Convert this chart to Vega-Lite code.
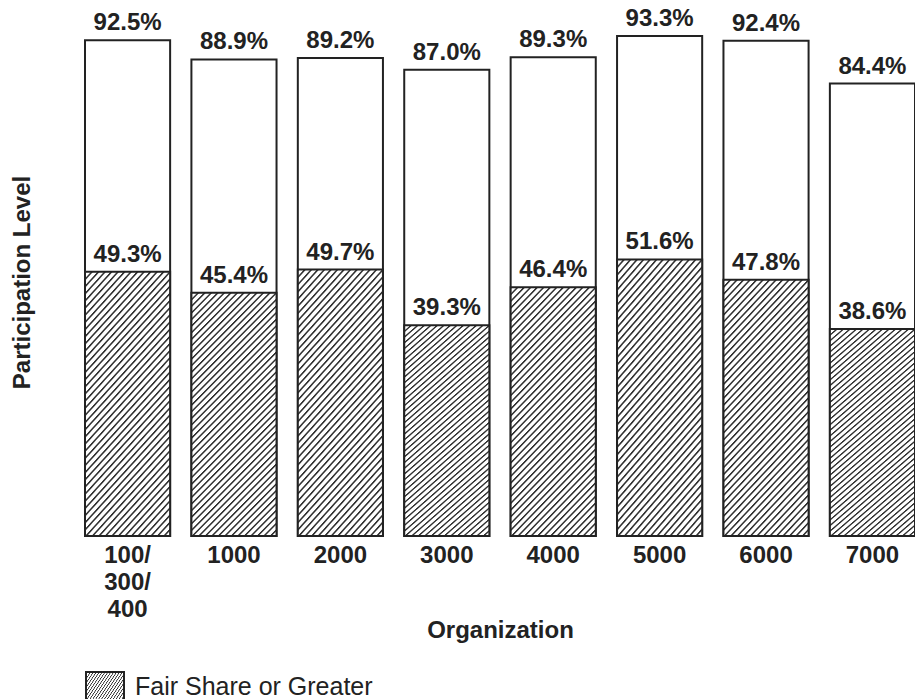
{
  "$schema": "https://vega.github.io/schema/vega-lite/v6.json",
  "width": 830,
  "height": 536,
  "autosize": {"type": "none"},
  "padding": {"left": 85, "top": 0, "right": 0, "bottom": 163},
  "background": "white",
  "view": {"stroke": null},
  "config": {
    "font": "Liberation Sans",
    "text": {"font": "Liberation Sans"}
  },
  "data": {
    "values": [
      {"org": "100/300/400", "total": 92.5, "fair": 49.3, "legend": "Fair Share or Greater"},
      {"org": "1000", "total": 88.9, "fair": 45.4, "legend": "Fair Share or Greater"},
      {"org": "2000", "total": 89.2, "fair": 49.7, "legend": "Fair Share or Greater"},
      {"org": "3000", "total": 87.0, "fair": 39.3, "legend": "Fair Share or Greater"},
      {"org": "4000", "total": 89.3, "fair": 46.4, "legend": "Fair Share or Greater"},
      {"org": "5000", "total": 93.3, "fair": 51.6, "legend": "Fair Share or Greater"},
      {"org": "6000", "total": 92.4, "fair": 47.8, "legend": "Fair Share or Greater"},
      {"org": "7000", "total": 84.4, "fair": 38.6, "legend": "Fair Share or Greater"}
    ]
  },
  "encoding": {
    "x": {
      "field": "org",
      "type": "nominal",
      "sort": null,
      "scale": {"paddingInner": 0.2, "paddingOuter": 0},
      "axis": {
        "title": "Organization",
        "labelAngle": 0,
        "labelFont": "Liberation Sans",
        "labelFontWeight": "bold",
        "labelFontSize": 24,
        "labelColor": "#222",
        "labelPadding": 7,
        "labelLineHeight": 27,
        "labelExpr": "datum.value == '100/300/400' ? ['100/', '300/', '400'] : datum.label",
        "ticks": false,
        "domain": false,
        "grid": false,
        "titleFont": "Liberation Sans",
        "titleFontWeight": "bold",
        "titleFontSize": 24,
        "titleColor": "#222",
        "titleBaseline": "alphabetic",
        "titleY": 101
      }
    }
  },
  "layer": [
    {
      "mark": {"type": "bar", "fill": "white", "stroke": "#222", "strokeWidth": 2},
      "encoding": {
        "y": {
          "field": "total",
          "type": "quantitative",
          "scale": {"domain": [0, 100], "nice": false},
          "axis": {
            "title": "Participation Level",
            "labels": false,
            "ticks": false,
            "domain": false,
            "grid": false,
            "titleFont": "Liberation Sans",
            "titleFontWeight": "bold",
            "titleFontSize": 24,
            "titleColor": "#222",
            "titleAngle": 270,
            "titleAlign": "center",
            "titleBaseline": "alphabetic",
            "titleX": -56,
            "titleY": 282
          }
        }
      }
    },
    {
      "mark": {
        "type": "bar",
        "strokeWidth": 2,
        "fill": {
          "gradient": "linear", "x1": 0, "y1": 0, "x2": 0.426, "y2": 1.203,
          "stops": [
            {"offset": 0, "color": "#333"}, {"offset": 0.003, "color": "#333"}, {"offset": 0.007, "color": "#fff"}, {"offset": 0.017, "color": "#fff"},
            {"offset": 0.02, "color": "#333"}, {"offset": 0.023, "color": "#333"}, {"offset": 0.027, "color": "#fff"}, {"offset": 0.037, "color": "#fff"},
            {"offset": 0.04, "color": "#333"}, {"offset": 0.043, "color": "#333"}, {"offset": 0.047, "color": "#fff"}, {"offset": 0.057, "color": "#fff"},
            {"offset": 0.06, "color": "#333"}, {"offset": 0.063, "color": "#333"}, {"offset": 0.067, "color": "#fff"}, {"offset": 0.077, "color": "#fff"},
            {"offset": 0.08, "color": "#333"}, {"offset": 0.083, "color": "#333"}, {"offset": 0.087, "color": "#fff"}, {"offset": 0.097, "color": "#fff"},
            {"offset": 0.1, "color": "#333"}, {"offset": 0.103, "color": "#333"}, {"offset": 0.107, "color": "#fff"}, {"offset": 0.117, "color": "#fff"},
            {"offset": 0.12, "color": "#333"}, {"offset": 0.123, "color": "#333"}, {"offset": 0.127, "color": "#fff"}, {"offset": 0.137, "color": "#fff"},
            {"offset": 0.14, "color": "#333"}, {"offset": 0.143, "color": "#333"}, {"offset": 0.147, "color": "#fff"}, {"offset": 0.157, "color": "#fff"},
            {"offset": 0.16, "color": "#333"}, {"offset": 0.163, "color": "#333"}, {"offset": 0.167, "color": "#fff"}, {"offset": 0.177, "color": "#fff"},
            {"offset": 0.18, "color": "#333"}, {"offset": 0.183, "color": "#333"}, {"offset": 0.187, "color": "#fff"}, {"offset": 0.197, "color": "#fff"},
            {"offset": 0.2, "color": "#333"}, {"offset": 0.203, "color": "#333"}, {"offset": 0.207, "color": "#fff"}, {"offset": 0.217, "color": "#fff"},
            {"offset": 0.22, "color": "#333"}, {"offset": 0.223, "color": "#333"}, {"offset": 0.227, "color": "#fff"}, {"offset": 0.237, "color": "#fff"},
            {"offset": 0.24, "color": "#333"}, {"offset": 0.243, "color": "#333"}, {"offset": 0.247, "color": "#fff"}, {"offset": 0.257, "color": "#fff"},
            {"offset": 0.26, "color": "#333"}, {"offset": 0.263, "color": "#333"}, {"offset": 0.267, "color": "#fff"}, {"offset": 0.277, "color": "#fff"},
            {"offset": 0.28, "color": "#333"}, {"offset": 0.283, "color": "#333"}, {"offset": 0.287, "color": "#fff"}, {"offset": 0.297, "color": "#fff"},
            {"offset": 0.3, "color": "#333"}, {"offset": 0.303, "color": "#333"}, {"offset": 0.307, "color": "#fff"}, {"offset": 0.317, "color": "#fff"},
            {"offset": 0.32, "color": "#333"}, {"offset": 0.323, "color": "#333"}, {"offset": 0.327, "color": "#fff"}, {"offset": 0.337, "color": "#fff"},
            {"offset": 0.34, "color": "#333"}, {"offset": 0.343, "color": "#333"}, {"offset": 0.347, "color": "#fff"}, {"offset": 0.357, "color": "#fff"},
            {"offset": 0.36, "color": "#333"}, {"offset": 0.363, "color": "#333"}, {"offset": 0.367, "color": "#fff"}, {"offset": 0.377, "color": "#fff"},
            {"offset": 0.38, "color": "#333"}, {"offset": 0.383, "color": "#333"}, {"offset": 0.387, "color": "#fff"}, {"offset": 0.397, "color": "#fff"},
            {"offset": 0.4, "color": "#333"}, {"offset": 0.403, "color": "#333"}, {"offset": 0.407, "color": "#fff"}, {"offset": 0.417, "color": "#fff"},
            {"offset": 0.42, "color": "#333"}, {"offset": 0.423, "color": "#333"}, {"offset": 0.427, "color": "#fff"}, {"offset": 0.437, "color": "#fff"},
            {"offset": 0.44, "color": "#333"}, {"offset": 0.443, "color": "#333"}, {"offset": 0.447, "color": "#fff"}, {"offset": 0.457, "color": "#fff"},
            {"offset": 0.46, "color": "#333"}, {"offset": 0.463, "color": "#333"}, {"offset": 0.467, "color": "#fff"}, {"offset": 0.477, "color": "#fff"},
            {"offset": 0.48, "color": "#333"}, {"offset": 0.483, "color": "#333"}, {"offset": 0.487, "color": "#fff"}, {"offset": 0.497, "color": "#fff"},
            {"offset": 0.5, "color": "#333"}, {"offset": 0.503, "color": "#333"}, {"offset": 0.507, "color": "#fff"}, {"offset": 0.517, "color": "#fff"},
            {"offset": 0.52, "color": "#333"}, {"offset": 0.523, "color": "#333"}, {"offset": 0.527, "color": "#fff"}, {"offset": 0.537, "color": "#fff"},
            {"offset": 0.54, "color": "#333"}, {"offset": 0.543, "color": "#333"}, {"offset": 0.547, "color": "#fff"}, {"offset": 0.557, "color": "#fff"},
            {"offset": 0.56, "color": "#333"}, {"offset": 0.563, "color": "#333"}, {"offset": 0.567, "color": "#fff"}, {"offset": 0.577, "color": "#fff"},
            {"offset": 0.58, "color": "#333"}, {"offset": 0.583, "color": "#333"}, {"offset": 0.587, "color": "#fff"}, {"offset": 0.597, "color": "#fff"},
            {"offset": 0.6, "color": "#333"}, {"offset": 0.603, "color": "#333"}, {"offset": 0.607, "color": "#fff"}, {"offset": 0.617, "color": "#fff"},
            {"offset": 0.62, "color": "#333"}, {"offset": 0.623, "color": "#333"}, {"offset": 0.627, "color": "#fff"}, {"offset": 0.637, "color": "#fff"},
            {"offset": 0.64, "color": "#333"}, {"offset": 0.643, "color": "#333"}, {"offset": 0.647, "color": "#fff"}, {"offset": 0.657, "color": "#fff"},
            {"offset": 0.66, "color": "#333"}, {"offset": 0.663, "color": "#333"}, {"offset": 0.667, "color": "#fff"}, {"offset": 0.677, "color": "#fff"},
            {"offset": 0.68, "color": "#333"}, {"offset": 0.683, "color": "#333"}, {"offset": 0.687, "color": "#fff"}, {"offset": 0.697, "color": "#fff"},
            {"offset": 0.7, "color": "#333"}, {"offset": 0.703, "color": "#333"}, {"offset": 0.707, "color": "#fff"}, {"offset": 0.717, "color": "#fff"},
            {"offset": 0.72, "color": "#333"}, {"offset": 0.723, "color": "#333"}, {"offset": 0.727, "color": "#fff"}, {"offset": 0.737, "color": "#fff"},
            {"offset": 0.74, "color": "#333"}, {"offset": 0.743, "color": "#333"}, {"offset": 0.747, "color": "#fff"}, {"offset": 0.757, "color": "#fff"},
            {"offset": 0.76, "color": "#333"}, {"offset": 0.763, "color": "#333"}, {"offset": 0.767, "color": "#fff"}, {"offset": 0.777, "color": "#fff"},
            {"offset": 0.78, "color": "#333"}, {"offset": 0.783, "color": "#333"}, {"offset": 0.787, "color": "#fff"}, {"offset": 0.797, "color": "#fff"},
            {"offset": 0.8, "color": "#333"}, {"offset": 0.803, "color": "#333"}, {"offset": 0.807, "color": "#fff"}, {"offset": 0.817, "color": "#fff"},
            {"offset": 0.82, "color": "#333"}, {"offset": 0.823, "color": "#333"}, {"offset": 0.827, "color": "#fff"}, {"offset": 0.837, "color": "#fff"},
            {"offset": 0.84, "color": "#333"}, {"offset": 0.843, "color": "#333"}, {"offset": 0.847, "color": "#fff"}, {"offset": 0.857, "color": "#fff"},
            {"offset": 0.86, "color": "#333"}, {"offset": 0.863, "color": "#333"}, {"offset": 0.867, "color": "#fff"}, {"offset": 0.877, "color": "#fff"},
            {"offset": 0.88, "color": "#333"}, {"offset": 0.883, "color": "#333"}, {"offset": 0.887, "color": "#fff"}, {"offset": 0.897, "color": "#fff"},
            {"offset": 0.9, "color": "#333"}, {"offset": 0.903, "color": "#333"}, {"offset": 0.907, "color": "#fff"}, {"offset": 0.917, "color": "#fff"},
            {"offset": 0.92, "color": "#333"}, {"offset": 0.923, "color": "#333"}, {"offset": 0.927, "color": "#fff"}, {"offset": 0.937, "color": "#fff"},
            {"offset": 0.94, "color": "#333"}, {"offset": 0.943, "color": "#333"}, {"offset": 0.947, "color": "#fff"}, {"offset": 0.957, "color": "#fff"},
            {"offset": 0.96, "color": "#333"}, {"offset": 0.963, "color": "#333"}, {"offset": 0.967, "color": "#fff"}, {"offset": 0.977, "color": "#fff"},
            {"offset": 0.98, "color": "#333"}, {"offset": 0.983, "color": "#333"}, {"offset": 0.987, "color": "#fff"}, {"offset": 0.997, "color": "#fff"},
            {"offset": 1, "color": "#333"}
          ]
        }
      },
      "encoding": {
        "y": {"field": "fair", "type": "quantitative"},
        "stroke": {
          "field": "legend",
          "type": "nominal",
          "scale": {"range": ["#222"]},
          "legend": {
            "title": null,
            "orient": "none",
            "legendX": 0,
            "legendY": 667,
            "padding": 0,
            "symbolType": "M-1,-0.79H1V0.79H-1Z",
            "symbolSize": 1444,
            "symbolStrokeWidth": 2,
            "labelFont": "Liberation Sans",
            "labelFontSize": 25,
            "labelColor": "#222",
            "labelOffset": 10,
            "labelLimit": 400,
            "encode": {
              "symbols": {
                "update": {
                  "fill": {
                    "value": {
                      "gradient": "linear", "x1": 0, "y1": 0, "x2": 1, "y2": 1,
                      "stops": [
                        {"offset": 0, "color": "#333"}, {"offset": 0.015, "color": "#333"}, {"offset": 0.035, "color": "#fff"}, {"offset": 0.085, "color": "#fff"},
                        {"offset": 0.1, "color": "#333"}, {"offset": 0.115, "color": "#333"}, {"offset": 0.135, "color": "#fff"}, {"offset": 0.185, "color": "#fff"},
                        {"offset": 0.2, "color": "#333"}, {"offset": 0.215, "color": "#333"}, {"offset": 0.235, "color": "#fff"}, {"offset": 0.285, "color": "#fff"},
                        {"offset": 0.3, "color": "#333"}, {"offset": 0.315, "color": "#333"}, {"offset": 0.335, "color": "#fff"}, {"offset": 0.385, "color": "#fff"},
                        {"offset": 0.4, "color": "#333"}, {"offset": 0.415, "color": "#333"}, {"offset": 0.435, "color": "#fff"}, {"offset": 0.485, "color": "#fff"},
                        {"offset": 0.5, "color": "#333"}, {"offset": 0.515, "color": "#333"}, {"offset": 0.535, "color": "#fff"}, {"offset": 0.585, "color": "#fff"},
                        {"offset": 0.6, "color": "#333"}, {"offset": 0.615, "color": "#333"}, {"offset": 0.635, "color": "#fff"}, {"offset": 0.685, "color": "#fff"},
                        {"offset": 0.7, "color": "#333"}, {"offset": 0.715, "color": "#333"}, {"offset": 0.735, "color": "#fff"}, {"offset": 0.785, "color": "#fff"},
                        {"offset": 0.8, "color": "#333"}, {"offset": 0.815, "color": "#333"}, {"offset": 0.835, "color": "#fff"}, {"offset": 0.885, "color": "#fff"},
                        {"offset": 0.9, "color": "#333"}, {"offset": 0.915, "color": "#333"}, {"offset": 0.935, "color": "#fff"}, {"offset": 0.985, "color": "#fff"},
                        {"offset": 1, "color": "#333"}
                      ]
                    }
                  },
                  "fillOpacity": {"value": 1}
                }
              }
            }
          }
        }
      }
    },
    {
      "mark": {"type": "text", "font": "Liberation Sans", "fontSize": 24, "fontWeight": "bold", "color": "#222", "baseline": "alphabetic", "align": "center", "dy": -10,
        "text": {"expr": "format(datum.total, '.1f') + '%'"}},
      "encoding": {
        "y": {"field": "total", "type": "quantitative"}
      }
    },
    {
      "mark": {"type": "text", "font": "Liberation Sans", "fontSize": 24, "fontWeight": "bold", "color": "#222", "baseline": "alphabetic", "align": "center", "dy": -10,
        "text": {"expr": "format(datum.fair, '.1f') + '%'"}},
      "encoding": {
        "y": {"field": "fair", "type": "quantitative"}
      }
    }
  ]
}
